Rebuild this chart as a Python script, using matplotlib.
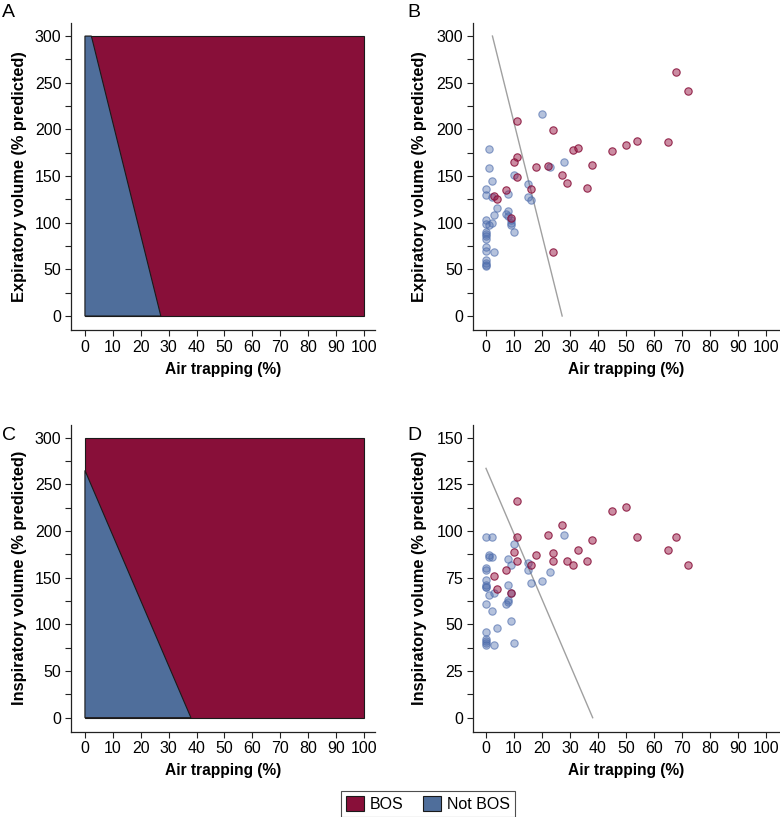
import matplotlib
matplotlib.use("Agg")
import matplotlib.pyplot as plt
from matplotlib.patches import Polygon, Rectangle, Patch
from matplotlib.ticker import MultipleLocator

plt.rcParams['font.family'] = ['Liberation Sans', 'DejaVu Sans']

# ---------------- data ----------------
# Decision boundaries (air trapping %, volume % predicted)
exp_boundary_top = (2.3, 300)     # x at y=300
exp_boundary_bottom = (27.2, 0)   # x at y=0
insp_boundary_top = (0, 265)
insp_boundary_bottom = (38, 0)
insp_line_top = (0, 133.6)
insp_line_bottom = (38.1, 0)

# Panel B: expiratory volume vs air trapping
b_bos_x = [11, 24, 54, 50, 45, 31, 33, 11, 10, 18, 22, 38, 27, 29, 11, 36, 16, 7, 3, 4, 9, 24, 72, 68, 65]
b_bos_y = [209, 199, 188, 183, 177, 178, 180, 170, 165, 160, 161, 162, 151, 142, 149, 137, 136, 135, 129, 125, 105, 69, 241, 262, 186]
b_not_x = [20, 1, 1, 28, 23, 2, 10, 0, 0, 2, 8, 15, 15, 16, 4, 3, 8, 7, 8, 9, 9, 9, 10, 0, 0, 1, 2,
           0, 0, 0, 0, 0, 0, 3, 0, 0, 0, 0]
b_not_y = [217, 179, 159, 165, 160, 145, 151, 136, 130, 127, 131, 141, 127, 124, 116, 108, 112, 109, 107, 103, 100, 97, 90, 103, 99, 97, 100,
           90, 88, 86, 83, 74, 70, 69, 60, 57, 55, 54]

# Panel D: inspiratory volume vs air trapping
d_bos_x = [11, 45, 50, 27, 22, 11, 54, 38, 33, 24, 10, 18, 11, 24, 29, 31, 36, 16, 7, 3, 4, 9, 68, 65, 72]
d_bos_y = [116, 111, 113, 103, 98, 97, 97, 95, 90, 88, 89, 87, 84, 84, 84, 82, 84, 82, 79, 76, 69, 67, 97, 90, 82]
d_not_x = [0, 2, 28, 10, 1, 2, 1, 8, 9, 15, 0, 0, 15, 23, 0, 0, 0, 0, 16, 20, 8, 3, 1, 9, 0, 7, 8, 8,
           2, 9, 4, 0, 0, 0, 0, 0, 3, 10]
d_not_y = [97, 97, 98, 93, 87, 86, 86, 85, 82, 83, 80, 79, 79, 78, 74, 71, 70, 70, 72, 73, 71, 67, 66, 67, 61, 61, 62, 63,
           57, 52, 48, 46, 42, 41, 40, 39, 39, 40]

x_ticks = [0, 10, 20, 30, 40, 50, 60, 70, 80, 90, 100]
legend_labels = ["BOS", "Not BOS"]

# ---------------- style ----------------
RED = '#880F39'
BLUE = '#4F6E9B'
W, H = 780, 817
fig = plt.figure(figsize=(W / 100, H / 100), dpi=100)


def add_axes(left, right, top, bottom):
    return fig.add_axes([left / W, 1 - bottom / H, (right - left) / W, (bottom - top) / H])


def style(ax, xlim, ylim, major, minor, ylabel, label_x):
    ax.set_xlim(*xlim)
    ax.set_ylim(*ylim)
    for s in ('top', 'right'):
        ax.spines[s].set_visible(False)
    for s in ('left', 'bottom'):
        ax.spines[s].set_linewidth(0.9)
        ax.spines[s].set_color('#222222')
    ax.set_xticks(x_ticks)
    ax.yaxis.set_major_locator(MultipleLocator(major))
    ax.yaxis.set_minor_locator(MultipleLocator(minor))
    ax.tick_params(axis='both', which='both', direction='out', length=4, width=0.8,
                   color='#222222', labelsize=11.5, pad=3)
    ax.tick_params(axis='y', which='minor', length=4)
    ax.set_xlabel("Air trapping (%)", fontsize=11.2, fontweight='bold', labelpad=5)
    ax.set_ylabel(ylabel, fontsize=11.8, fontweight='bold')
    ax.yaxis.set_label_coords(label_x, 0.5)


def region_panel(ax, top_pt, bottom_pt):
    ax.add_patch(Rectangle((0, 0), 100, 300, facecolor=RED, edgecolor='#1a1a1a', lw=0.8, zorder=1))
    poly = [(0, 0), (bottom_pt[0], 0), (top_pt[0], top_pt[1]), (0, 300)] if top_pt[1] >= 300 else \
        [(0, 0), (bottom_pt[0], 0), (top_pt[0], top_pt[1])]
    ax.add_patch(Polygon(poly, closed=True, facecolor=BLUE, edgecolor='#1a1a1a', lw=0.8, zorder=2))


def scatter_panel(ax, bx, by, nx, ny, line_top, line_bottom):
    ax.plot([line_top[0], line_bottom[0]], [line_top[1], line_bottom[1]], color='#a0a0a0', lw=1.0, zorder=1)
    ax.scatter(nx, ny, s=28, facecolor=(0.31, 0.43, 0.68, 0.42), edgecolor=(0.31, 0.43, 0.68, 0.65),
               linewidth=0.8, zorder=2)
    ax.scatter(bx, by, s=28, facecolor=(0.60, 0.10, 0.28, 0.5), edgecolor=(0.53, 0.06, 0.22, 0.85),
               linewidth=0.8, zorder=3)


axA = add_axes(71, 375, 23, 330)
region_panel(axA, exp_boundary_top, exp_boundary_bottom)
style(axA, (-5, 104), (-15, 314), 50, 25, "Expiratory volume (% predicted)", -0.145)

axB = add_axes(472.7, 780, 23, 330)
scatter_panel(axB, b_bos_x, b_bos_y, b_not_x, b_not_y, exp_boundary_top, exp_boundary_bottom)
style(axB, (-4.75, 105), (-15, 314), 50, 25, "Expiratory volume (% predicted)", -0.149)

axC = add_axes(71, 375, 424.7, 731.7)
region_panel(axC, insp_boundary_top, insp_boundary_bottom)
style(axC, (-5, 104), (-15, 314), 50, 25, "Inspiratory volume (% predicted)", -0.145)

axD = add_axes(472.7, 780, 424.7, 731.7)
scatter_panel(axD, d_bos_x, d_bos_y, d_not_x, d_not_y, insp_line_top, insp_line_bottom)
style(axD, (-4.75, 105), (-7.5, 157), 25, 12.5, "Inspiratory volume (% predicted)", -0.149)

# panel letters
for lbl, px, py in [("A", 2, 4), ("B", 407, 4), ("C", 2, 427), ("D", 407, 427)]:
    fig.text(px / W, 1 - py / H, lbl, fontsize=14, ha='left', va='top')

handles = [Patch(facecolor=RED, edgecolor='#1a1a1a', lw=0.8),
           Patch(facecolor=BLUE, edgecolor='#1a1a1a', lw=0.8)]
leg = fig.legend(handles, legend_labels, loc='center', bbox_to_anchor=(428 / W, 1 - 804 / H),
                 ncol=2, fontsize=11.5, frameon=True, fancybox=False, edgecolor='#222222',
                 handlelength=1.1, handleheight=1.1, handletextpad=0.4, columnspacing=1.2,
                 borderpad=0.3, borderaxespad=0)
leg.get_frame().set_linewidth(0.8)

fig.savefig("out.png", dpi=100)
